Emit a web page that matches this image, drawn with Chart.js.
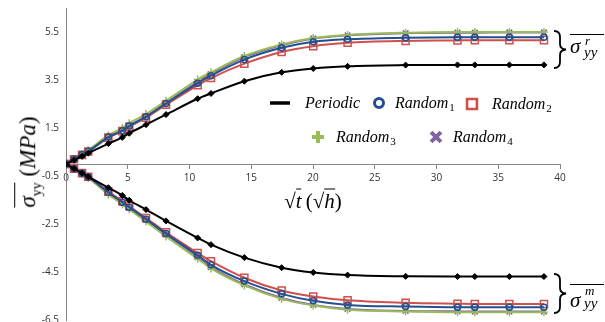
<!DOCTYPE html>
<html lang="en">
<head>
<meta charset="UTF-8">
<title>Stress evolution</title>
<script src="https://cdn.jsdelivr.net/npm/chart.js@4.4.1/dist/chart.umd.min.js"></script>
<style>
  body { margin: 0; background: #fff; }
  #wrap { position: relative; width: 605px; height: 322px; overflow: hidden; }
  #chart { position: absolute; left: 0; top: 0; }
  .math { position: absolute; font-family: 'Liberation Serif', serif; color: #000; white-space: nowrap; line-height: 1; }
  .ovl { display: inline-block; border-top: 1.4px solid #000; padding-top: 1px; }
  .line { position: absolute; border-top: 1.3px solid #000; height: 0; }
</style>
</head>
<body>
<div id="wrap">
  <canvas id="chart" width="605" height="322"></canvas>

  <div class="math" style="left:29px; top:162px; font-size:23px; transform:translate(-50%,-50%) rotate(-90deg);">
    <span class="ovl"><i>σ</i><sub style="font-size:14px">yy</sub></span> (<i>MPa</i>)
  </div>

  <div class="math" style="left:313px; top:200px; font-size:21px; transform:translate(-50%,-50%);">
    √<span class="ovl"><i>t</i></span>&thinsp;(√<span class="ovl"><i>h</i></span>)
  </div>

  <!-- braces on the right -->
  <svg style="position:absolute; left:553px; top:30px;" width="16" height="40">
    <path d="M1 1 Q7 1 7 7 L7 14 Q7 19 13 19.5 Q7 20 7 25 L7 32 Q7 38 1 38" fill="none" stroke="#000" stroke-width="1.8"/>
  </svg>
  <div class="line" style="left:570px; top:34px; width:34px;"></div>
  <div class="math" style="left:570px; top:36px; font-size:21px;"><i>σ</i></div>
  <div class="math" style="left:585px; top:34px; font-size:13px;"><i>r</i></div>
  <div class="math" style="left:584px; top:45px; font-size:15px;"><i>yy</i></div>

  <svg style="position:absolute; left:553px; top:273px;" width="16" height="42">
    <path d="M1 1 Q7 1 7 7 L7 15 Q7 20 13 20.5 Q7 21 7 26 L7 34 Q7 40 1 40" fill="none" stroke="#000" stroke-width="1.8"/>
  </svg>
  <div class="line" style="left:570px; top:284px; width:34px;"></div>
  <div class="math" style="left:570px; top:290px; font-size:21px;"><i>σ</i></div>
  <div class="math" style="left:585px; top:284px; font-size:13px;"><i>m</i></div>
  <div class="math" style="left:584px; top:296px; font-size:15px;"><i>yy</i></div>
</div>

<script>
// sqrt(t) in sqrt(h)
const xVals = [0, 0.65, 1.3, 1.8, 3.43, 4.56, 5.12, 6.48, 8.1, 10.66, 11.74, 14.44, 17.46, 20.02, 22.8, 27.5, 31.7, 33.1, 35.9, 38.7];

// sigma_yy^r (upper branch)
const periodicUp = [0, 0.16, 0.32, 0.45, 0.85, 1.11, 1.28, 1.64, 2.06, 2.72, 2.94, 3.45, 3.82, 3.98, 4.07, 4.12, 4.13, 4.13, 4.13, 4.13];
const random1Up  = [0, 0.2, 0.39, 0.53, 1.12, 1.39, 1.58, 1.97, 2.52, 3.36, 3.68, 4.35, 4.84, 5.09, 5.20, 5.26, 5.28, 5.28, 5.28, 5.28];
const random2Up  = [0, 0.2, 0.38, 0.52, 1.10, 1.37, 1.55, 1.93, 2.47, 3.28, 3.58, 4.18, 4.67, 4.91, 5.05, 5.13, 5.15, 5.16, 5.16, 5.16];
const random3Up  = [0, 0.21, 0.42, 0.57, 1.2, 1.5, 1.7, 2.08, 2.63, 3.52, 3.82, 4.5, 4.98, 5.25, 5.38, 5.47, 5.5, 5.5, 5.5, 5.5];
const random4Up  = [0, 0.2, 0.39, 0.53, 1.12, 1.40, 1.60, 1.99, 2.55, 3.42, 3.75, 4.45, 4.95, 5.23, 5.36, 5.45, 5.47, 5.47, 5.48, 5.48];

// sigma_yy^m (lower branch)
const periodicDown = [0, -0.19, -0.38, -0.53, -0.99, -1.31, -1.51, -1.90, -2.37, -3.08, -3.36, -3.90, -4.32, -4.52, -4.63, -4.68, -4.69, -4.69, -4.69, -4.69];
const random1Down  = [0, -0.2, -0.39, -0.54, -1.18, -1.59, -1.80, -2.30, -2.90, -3.80, -4.20, -4.88, -5.41, -5.70, -5.87, -5.94, -5.97, -5.97, -5.97, -5.97];
const random2Down  = [0, -0.2, -0.38, -0.53, -1.15, -1.55, -1.76, -2.25, -2.85, -3.71, -4.05, -4.74, -5.27, -5.52, -5.68, -5.78, -5.82, -5.83, -5.83, -5.83];
const random3Down  = [0, -0.21, -0.42, -0.58, -1.27, -1.68, -1.89, -2.40, -3.02, -3.95, -4.35, -5.06, -5.62, -5.90, -6.07, -6.15, -6.18, -6.18, -6.18, -6.18];
const random4Down  = [0, -0.2, -0.4, -0.55, -1.20, -1.62, -1.83, -2.33, -2.94, -3.88, -4.30, -5.02, -5.58, -5.87, -6.04, -6.12, -6.14, -6.15, -6.15, -6.15];

const seriesNames = ['Periodic', 'Random1', 'Random2', 'Random3', 'Random4'];
const yTicks = [-6.5, -4.5, -2.5, -0.5, 1.5, 3.5, 5.5];
const xTicks = [0, 5, 10, 15, 20, 25, 30, 35, 40];

// look of each series
const styles = [
  { color: '#000000', pointStyle: 'rectRot', radius: 3, fill: '#000000', bw: 1 },
  { color: '#23508f', pointStyle: 'circle', radius: 3, fill: 'rgba(0,0,0,0)', bw: 1.5 },
  { color: '#d0504c', pointStyle: 'rect', radius: 5, fill: 'rgba(0,0,0,0)', bw: 1.5 },
  { color: '#9bbb59', pointStyle: 'cross', radius: 4, fill: '#9bbb59', bw: 1.5 },
  { color: '#8064a2', pointStyle: 'crossRot', radius: 4, fill: '#8064a2', bw: 1.5 }
];

const upper = [periodicUp, random1Up, random2Up, random3Up, random4Up];
const lower = [periodicDown, random1Down, random2Down, random3Down, random4Down];

function makeSet(name, vals, st) {
  return {
    label: name,
    data: vals.map((v, i) => ({ x: xVals[i], y: v })),
    borderColor: st.color,
    borderWidth: 2,
    cubicInterpolationMode: 'monotone',
    pointStyle: st.pointStyle,
    pointRadius: st.radius,
    pointBorderWidth: st.bw,
    pointBorderColor: st.color,
    pointBackgroundColor: st.fill,
    fill: false
  };
}

function buildDatasets() {
  const ds = [];
  seriesNames.forEach((n, i) => {
    ds.push(makeSet(n, upper[i], styles[i]));
    ds.push(makeSet(n, lower[i], styles[i]));
  });
  return ds;
}

// legend placed inside the plot, two rows (page coords)
const legendSpots = [
  { x: 280, y: 103, tx: 305 },
  { x: 379, y: 103, tx: 395 },
  { x: 472, y: 104, tx: 492 },
  { x: 318, y: 137, tx: 336 },
  { x: 436, y: 137, tx: 453 }
];

let canvasShift = 0; // canvas top offset on the page

const legendPlugin = {
  id: 'innerLegend',
  afterDraw(chart) {
    const ctx = chart.ctx;
    ctx.save();
    seriesNames.forEach((name, i) => {
      const s = legendSpots[i];
      const y = s.y - canvasShift;
      const st = styles[i];
      ctx.strokeStyle = st.color;
      ctx.fillStyle = st.color;
      if (i === 0) {
        ctx.lineWidth = 3.5;
        ctx.beginPath();
        ctx.moveTo(s.x - 10, y);
        ctx.lineTo(s.x + 10, y);
        ctx.stroke();
      } else {
        let opts = { pointStyle: st.pointStyle, radius: 5, rotation: 0, borderWidth: 3 };
        if (st.pointStyle === 'circle') { ctx.fillStyle = '#fff'; opts.radius = 4.5; }
        if (st.pointStyle === 'rect') { ctx.fillStyle = '#fff'; opts.radius = 7; opts.borderWidth = 2.6; }
        if (st.pointStyle === 'cross') { opts.radius = 6; opts.borderWidth = 4; }
        if (st.pointStyle === 'crossRot') { opts.radius = 7; opts.borderWidth = 4; }
        ctx.lineWidth = opts.borderWidth;
        Chart.helpers.drawPoint(ctx, opts, s.x, y);
      }
      // label text
      ctx.fillStyle = '#000';
      ctx.textBaseline = 'alphabetic';
      ctx.font = 'italic 16px "Liberation Serif"';
      const base = name.replace(/\d$/, '');
      const sub = name.slice(base.length);
      ctx.fillText(base, s.tx, y + 5);
      if (sub) {
        const w = ctx.measureText(base).width;
        ctx.font = '11px "Liberation Serif"';
        ctx.fillText(sub, s.tx + w + 1, y + 8);
      }
    });
    ctx.restore();
  }
};

const axisGray = '#868686';

function config() {
  return {
    type: 'line',
    data: { datasets: buildDatasets() },
    plugins: [legendPlugin],
    options: {
      responsive: false,
      animation: false,
      layout: { padding: { left: 0, right: 45, top: 0, bottom: 0 } },
      plugins: { legend: { display: false }, tooltip: { enabled: false } },
      scales: {
        x: {
          type: 'linear',
          position: { y: 0 },
          min: 0,
          max: 40,
          afterBuildTicks: s => { s.ticks = xTicks.map(v => ({ value: v })); },
          ticks: { color: '#333', font: { family: 'Open Sans', size: 10 }, padding: 4, maxRotation: 0 },
          grid: { drawOnChartArea: false, tickLength: 4, color: axisGray },
          border: { color: axisGray }
        },
        y: {
          type: 'linear',
          min: -6.5,
          max: 6.5,
          afterBuildTicks: s => { s.ticks = yTicks.map(v => ({ value: v })); },
          afterFit: s => { s.width = 66; },
          ticks: { color: '#333', font: { family: 'Open Sans', size: 10 }, padding: 7,
                   callback: v => v.toFixed(1) },
          grid: { display: true, drawOnChartArea: false, drawTicks: false, color: axisGray },
          border: { color: axisGray }
        }
      }
    }
  };
}

// plot area wanted on the page: y from 8 to 319.5
const wantTop = 8, wantBottom = 319.5;
const canvas = document.getElementById('chart');
let chart = new Chart(canvas, config());
const a = chart.chartArea;
const mTop = a.top, mBot = chart.height - a.bottom;
chart.destroy();
const H = Math.round(wantBottom - wantTop + mTop + mBot);
canvasShift = wantTop - mTop;
canvas.height = H;
canvas.width = 605;
canvas.style.height = H + 'px';
canvas.style.width = '605px';
canvas.style.top = canvasShift + 'px';
chart = new Chart(canvas, config());
</script>
</body>
</html>
